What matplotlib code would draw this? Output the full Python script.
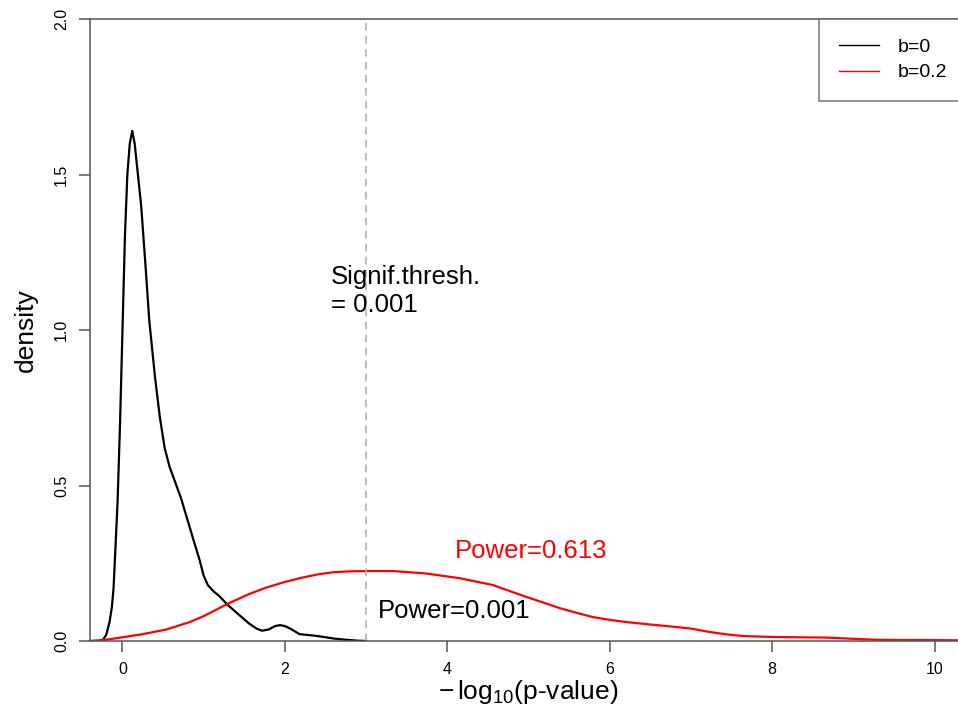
import matplotlib
matplotlib.use("Agg")
import matplotlib.pyplot as plt
import numpy as np

plt.rcParams['font.family'] = ['Liberation Sans', 'DejaVu Sans']
plt.rcParams['mathtext.fontset'] = 'custom'
plt.rcParams['mathtext.rm'] = 'Liberation Sans'
plt.rcParams['mathtext.it'] = 'Liberation Sans:italic'

# density of -log10(p), b=0
x_b0 = [-0.40, -0.25, -0.20, -0.16, -0.13, -0.11, -0.09, -0.06, -0.03, 0.00, 0.03,
        0.06, 0.09, 0.12, 0.15, 0.19, 0.23, 0.28, 0.33, 0.40, 0.46, 0.52, 0.58,
        0.65, 0.72, 0.80, 0.88, 0.95, 1.00, 1.05, 1.12, 1.19, 1.30, 1.44, 1.56,
        1.65, 1.72, 1.80, 1.88, 1.94, 2.00, 2.08, 2.18, 2.30, 2.40, 2.50, 2.60,
        2.75, 2.90, 3.00]
y_b0 = [0.0, 0.0, 0.02, 0.06, 0.11, 0.17, 0.28, 0.45, 0.70, 1.00, 1.30,
        1.50, 1.60, 1.64, 1.60, 1.50, 1.40, 1.22, 1.03, 0.85, 0.72, 0.62, 0.56,
        0.51, 0.46, 0.39, 0.32, 0.26, 0.21, 0.18, 0.16, 0.145, 0.115, 0.083, 0.056,
        0.040, 0.033, 0.037, 0.048, 0.051, 0.048, 0.038, 0.022, 0.019, 0.016, 0.012, 0.008,
        0.004, 0.001, 0.0]

# density of -log10(p), b=0.2
x_b02 = [-0.40, -0.20, 0.00, 0.25, 0.54, 0.83, 1.00, 1.15, 1.30, 1.55, 1.75,
         2.00, 2.20, 2.40, 2.59, 2.80, 3.00, 3.33, 3.74, 4.15, 4.56, 4.97, 5.20,
         5.38, 5.60, 5.79, 6.00, 6.20, 6.50, 6.82, 7.00, 7.23, 7.45, 7.64, 8.00,
         8.30, 8.67, 9.00, 9.29, 9.60, 9.90, 10.40]
y_b02 = [0.0, 0.004, 0.012, 0.022, 0.037, 0.061, 0.080, 0.100, 0.120, 0.150, 0.170,
         0.190, 0.203, 0.214, 0.221, 0.224, 0.225, 0.225, 0.217, 0.202, 0.180, 0.142, 0.122,
         0.106, 0.090, 0.077, 0.068, 0.061, 0.053, 0.045, 0.040, 0.029, 0.021, 0.016, 0.013,
         0.012, 0.011, 0.007, 0.004, 0.003, 0.003, 0.002]

thresh = 3  # -log10(0.001)
labels = ['b=0', 'b=0.2']
colors = ['black', 'red']

fig = plt.figure(figsize=(9.58, 7.11), dpi=100)
ax = fig.add_axes([90/958, 70/711, 877/958, 622/711])

ax.plot(x_b0, y_b0, color=colors[0], lw=1.6, label=labels[0])
ax.plot(x_b02, y_b02, color=colors[1], lw=1.6, label=labels[1])
ax.axvline(thresh, color='#aaaaaa', lw=1.1, ls=(0, (5, 3.5)))

ax.set_xlim(-0.4, 10.4)
ax.set_ylim(0, 2)
ax.set_xticks([0, 2, 4, 6, 8, 10])
ax.set_yticks([0, 0.5, 1.0, 1.5, 2.0])
ax.set_yticklabels(['0.0', '0.5', '1.0', '1.5', '2.0'], rotation=90, va='center')
ax.tick_params(length=8, width=1.1, color='#555555', labelsize=11.5, pad=7)

for s in ax.spines.values():
    s.set_color('#555555')
    s.set_linewidth(1.1)

ax.set_xlabel(r'$-\,\mathrm{log}_{10}$(p-value)', fontsize=19, labelpad=1)
ax.set_ylabel('density', fontsize=19, labelpad=12)

ax.text(2.57, 1.125, 'Signif.thresh.\n= 0.001', fontsize=18.5, ha='left', va='center',
        linespacing=1.25)
ax.text(5.03, 0.29, 'Power=0.613', fontsize=18.5, color='red', ha='center', va='center')
ax.text(4.08, 0.095, 'Power=0.001', fontsize=18.5, color='black', ha='center', va='center')

leg = ax.legend(loc='upper right', fontsize=14, frameon=True, fancybox=False,
                borderaxespad=0, handlelength=2.06, handletextpad=1.0,
                labelspacing=0.4, borderpad=1.0)
leg.get_frame().set_edgecolor('#555555')
leg.get_frame().set_linewidth(1.1)
for h in leg.get_lines():
    h.set_linewidth(1.0)

fig.savefig('out.png', dpi=100)
